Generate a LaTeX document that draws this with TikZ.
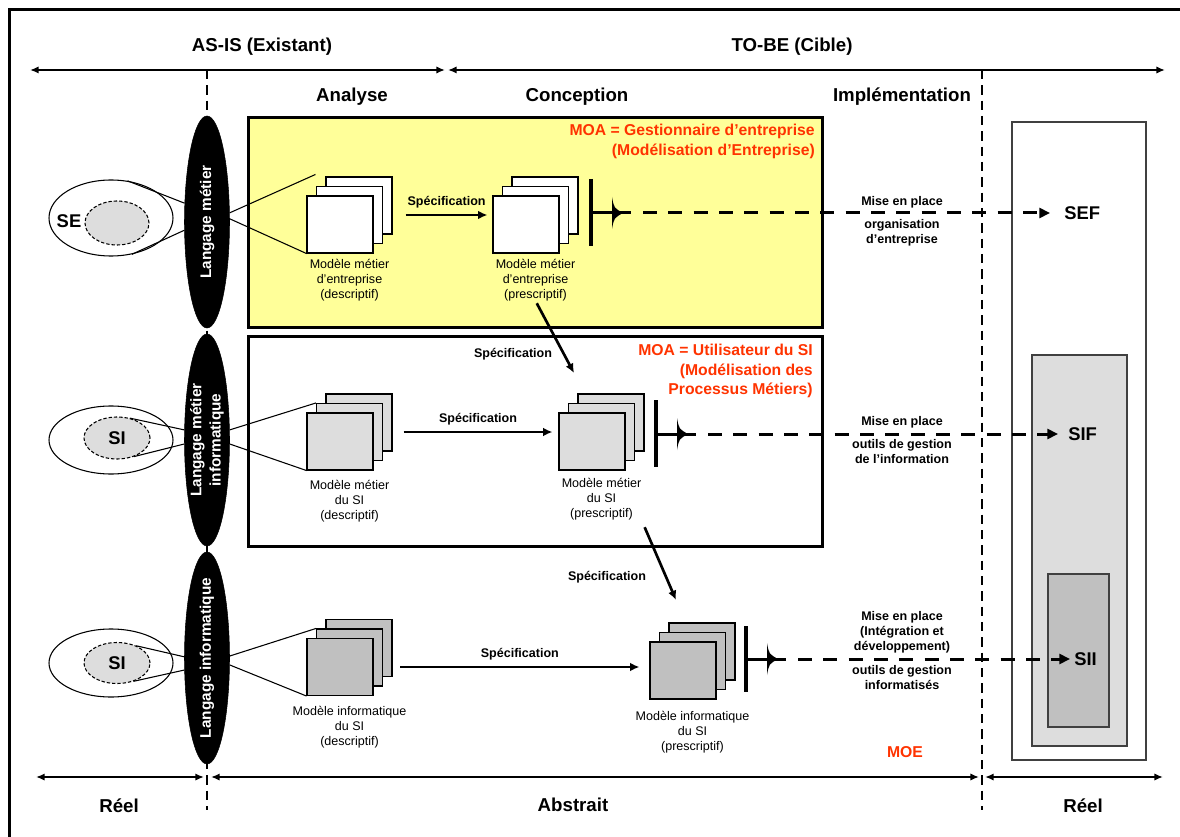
\documentclass[tikz,border=0pt]{standalone}
\usepackage{fontspec}
\setmainfont{Liberation Sans}
\usepackage{xcolor}
\usepackage{tikz}
\usetikzlibrary{calc}
\usetikzlibrary{positioning}
\usetikzlibrary{shapes.geometric}
\usetikzlibrary{arrows.meta}

\definecolor{moarouge}{HTML}{FF3300}
\definecolor{jaunepale}{HTML}{FFFF99}
\definecolor{grisclair}{HTML}{DDDDDD}
\definecolor{grisfonce}{HTML}{C0C0C0}

\tikzset{
	titre/.style={font=\bfseries\fontsize{14}{16}\selectfont},
	modele/.style={font=\fontsize{9.4}{11.25}\selectfont,align=center,inner sep=0pt},
	gras/.style={font=\bfseries\fontsize{9.4}{11.25}\selectfont,align=center,inner sep=0pt},
	moa/.style={font=\bfseries\fontsize{11.8}{14.6}\selectfont,text=moarouge,align=right,inner sep=0pt},
	langage/.style={font=\bfseries\fontsize{11.5}{14.5}\selectfont,text=white,rotate=90,align=center,inner sep=0pt},
	systeme/.style={font=\bfseries\fontsize{13.8}{16}\selectfont,inner sep=0pt},
	feuille/.style={draw,line width=0.8pt,fill=#1,minimum width=49.5pt,minimum height=42.75pt,inner sep=0pt},
	lentille/.style={ellipse,draw,fill=black,minimum width=33.75pt,minimum height=159pt,inner sep=0pt},
	domaine/.style={ellipse,draw,line width=0.8pt,minimum width=93pt,minimum height=#1,inner sep=0pt},
	noyau/.style={ellipse,draw,fill=grisclair,dash pattern=on 2.5pt off 1.5pt,line width=0.8pt,inner sep=0pt},
	trait/.style={line width=0.8pt},
	spec/.style={-{Latex[length=7pt,width=6.5pt]},line width=2pt},
	axe/.style={{Latex[length=6.5pt,width=5.5pt]}-{Latex[length=6.5pt,width=5.5pt]},line width=1.5pt},
	repere/.style={line width=1.5pt,dash pattern=on 7pt off 4.5pt},
	barre/.style={line width=2.5pt},
	sortie/.style={line width=2.25pt,dash pattern=on 10.5pt off 8.5pt,-{Triangle[length=8pt,width=7.5pt]}},
}

\begin{document}
\begin{tikzpicture}[x=0.75pt,y=-0.75pt]
	\useasboundingbox (0,0) rectangle (1180,837);
	\draw[line width=2.25pt] (1180,10) -- (9,10) -- (9,837);
	% en-tete
	\node[titre] (asis) at (262,47) {AS-IS (Existant)};
	\node[titre] (tobe) at (792,47) {TO-BE (Cible)};
	\coordinate (a1) at (30,70);
	\coordinate (a2) at (445,70);
	\coordinate (a3) at (448,70);
	\coordinate (a4) at (1165,70);
	\draw[axe] (a1) -- (a2);
	\draw[axe] (a3) -- (a4);
	\node[titre] (analyse) at (352,97) {Analyse};
	\node[titre] (conception) at (577,97) {Conception};
	\node[titre] (implementation) at (902,97) {Implémentation};
	\draw[repere] (207,70) -- (207,810);
	\draw[repere] (982,70) -- (982,810);
	% cadres MOA
	\draw[line width=2.25pt,fill=jaunepale] (248,118) rectangle (822,328);
	\draw[line width=2.25pt] (248,337) rectangle (822,546);
	\node[moa,anchor=north east] (moa1) at (815,124) {MOA = Gestionnaire d’entreprise\\(Modélisation d’Entreprise)};
	\node[moa,anchor=north east] (moa2) at (813,344) {MOA = Utilisateur du SI\\(Modélisation des\\Processus Métiers)};
	\node[moa] (moe) at (905,752) {MOE};
	% systemes reels
	\draw[trait,draw=black!75,fill=white] (1012,122) rectangle (1146,760);
	\draw[trait,draw=black!75,fill=grisclair] (1032,355) rectangle (1127,746);
	\draw[trait,draw=black!75,fill=grisfonce] (1048,574) rectangle (1109,727);
	\node[systeme,anchor=west] (sef) at (1064,213) {SEF};
	\node[systeme,anchor=west] (sif) at (1068,434) {SIF};
	\node[systeme,anchor=west] (sii) at (1074,659) {SII};
	% langages
	\node[lentille] (l1) at (207,222) {};
	\node[lentille] (l2) at (207,440) {};
	\node[lentille] (l3) at (207,658) {};
	\node[langage] (t1) at (l1) {Langage métier};
	\node[langage] (t2) at (l2) {Langage métier\\informatique};
	\node[langage] (t3) at (l3) {Langage informatique};
	% existant
	\node[domaine=57pt] (o1) at (111,218) {};
	\node[domaine=51pt] (o2) at (111,440) {};
	\node[domaine=51pt] (o3) at (111,663) {};
	\node[noyau,minimum width=48pt,minimum height=33pt] (n1) at (117,223) {};
	\node[noyau,minimum width=49.5pt,minimum height=31.5pt] (n2) at (117,438) {};
	\node[noyau,minimum width=49.5pt,minimum height=30.75pt] (n3) at (117,663) {};
	\node[systeme] (se) at (69,221) {SE};
	\node[systeme] (si1) at (n2) {SI};
	\node[systeme] (si2) at (n3) {SI};
	% modeles
	\node[feuille=white] (desc1b) at (359,205.5) {};
	\node[feuille=white] (desc1m) at (349.5,215) {};
	\node[feuille=white] (desc1) at (340,224.5) {};
	\node[feuille=white] (presc1b) at (545,205.5) {};
	\node[feuille=white] (presc1m) at (535.5,215) {};
	\node[feuille=white] (presc1) at (526,224.5) {};
	\node[feuille=grisclair] (desc2b) at (359,422.5) {};
	\node[feuille=grisclair] (desc2m) at (349.5,432) {};
	\node[feuille=grisclair] (desc2) at (340,441.5) {};
	\node[feuille=grisclair] (presc2b) at (611,422.5) {};
	\node[feuille=grisclair] (presc2m) at (601.5,432) {};
	\node[feuille=grisclair] (presc2) at (592,441.5) {};
	\node[feuille=grisfonce] (desc3b) at (359,648) {};
	\node[feuille=grisfonce] (desc3m) at (349.5,657.5) {};
	\node[feuille=grisfonce] (desc3) at (340,667) {};
	\node[feuille=grisfonce] (presc3b) at (702,651.5) {};
	\node[feuille=grisfonce] (presc3m) at (692.5,661) {};
	\node[feuille=grisfonce] (presc3) at (683,670.5) {};
	\node[modele,anchor=north] (ldesc1) at ($(desc1.south)+(9.5,5)$) {Modèle métier\\d’entreprise\\(descriptif)};
	\node[modele,anchor=north] (lpresc1) at ($(presc1.south)+(9.5,5)$) {Modèle métier\\d’entreprise\\(prescriptif)};
	\node[modele,anchor=north] (ldesc2) at ($(desc2.south)+(9.5,9)$) {Modèle métier\\du SI\\(descriptif)};
	\node[modele,anchor=north] (lpresc2) at ($(presc2.south)+(9.5,7)$) {Modèle métier\\du SI\\(prescriptif)};
	\node[modele,anchor=north] (ldesc3) at ($(desc3.south)+(9.5,10)$) {Modèle informatique\\du SI\\(descriptif)};
	\node[modele,anchor=north] (lpresc3) at ($(presc3.south)+(9.5,11)$) {Modèle informatique\\du SI\\(prescriptif)};
	% projections
	\draw[trait] (o1.66) -- (l1.140);
	\draw[trait] (o1.-60) -- (l1.200);
	\draw[trait] (l1.22) -- ([shift={(-10,-2)}]desc1b.north west);
	\draw[trait] (l1.8) -- (desc1.south west);
	\draw[trait] (n2.57) -- (l2.156);
	\draw[trait] (n2.-48) -- (l2.190);
	\draw[trait] (l2.24) -- (desc2m.north west);
	\draw[trait] (l2.-10) -- (desc2.south west);
	\draw[trait] (n3.42) -- (l3.177);
	\draw[trait] (n3.-48) -- (l3.208);
	\draw[trait] (l3.5) -- (desc3m.north west);
	\draw[trait] (l3.-17) -- (desc3.south west);
	% specifications
	\draw[spec] ([xshift=17pt]desc1m.east) -- node[gras,above=4pt] (sp1) {Spécification} ([xshift=-10.9pt]presc1m.west);
	\draw[spec] ([xshift=15.4pt]desc2m.east) -- node[gras,above=4pt] (sp2) {Spécification} ([xshift=-11.6pt]presc2m.west);
	\draw[spec] ([xshift=20pt]desc3.east) -- node[gras,above=4pt] (sp3) {Spécification} ([xshift=-7.5pt]desc3.east -| presc3.west);
	\coordinate (c1) at (574,373);
	\draw[spec,shorten <=2pt] (lpresc1.south) -- (c1);
	\node[gras] (sp4) at (513,354) {Spécification};
	\coordinate (c2) at (676,600);
	\draw[spec,shorten <=6pt] (lpresc2.south east) -- (c2);
	\node[gras] (sp5) at (607,577) {Spécification};
	% mise en place
	\coordinate (b1) at (591,213);
	\coordinate (b2) at (656,434);
	\coordinate (b3) at (746,659);
	\draw[barre] (591,179) -- (591,246);
	\draw[barre] (656,400) -- (656,467);
	\draw[barre] (746,626) -- (746,692);
	\draw[line width=2.25pt] (b1) -- ++(40,0);
	\draw[line width=2.25pt] (b2) -- ++(40,0);
	\draw[line width=2.25pt] (b3) -- ++(40,0);
	\fill[shift={(b1)}] (21,-16) .. controls (23,-5) .. (32,0) .. controls (23,5) .. (21,16) -- cycle;
	\fill[shift={(b2)}] (21,-16) .. controls (23,-5) .. (32,0) .. controls (23,5) .. (21,16) -- cycle;
	\fill[shift={(b3)}] (21,-16) .. controls (23,-5) .. (32,0) .. controls (23,5) .. (21,16) -- cycle;
	\coordinate (s1) at (643,213);
	\coordinate (s2) at (708,434);
	\coordinate (s3) at (798,659);
	\draw[sortie,shorten >=10.5pt] (s1) -- (sef);
	\draw[sortie,shorten >=7.5pt] (s2) -- (sif);
	\draw[sortie,shorten >=3pt] (s3) -- (sii);
	\node[gras] (m1) at (902,202) {Mise en place};
	\node[gras] (m1b) at (902,233) {organisation\\d’entreprise};
	\node[gras] (m2) at (902,422) {Mise en place};
	\node[gras] (m2b) at (902,452) {outils de gestion\\de l’information};
	\node[gras] (m3) at (902,632) {Mise en place\\(Intégration et\\développement)};
	\node[gras] (m3b) at (902,678) {outils de gestion\\informatisés};
	% pied
	\coordinate (f1) at (36,777);
	\coordinate (f2) at (204,777);
	\coordinate (f3) at (211,777);
	\coordinate (f4) at (979,777);
	\coordinate (f5) at (985,777);
	\coordinate (f6) at (1163,777);
	\draw[axe] (f1) -- (f2);
	\draw[axe] (f3) -- (f4);
	\draw[axe] (f5) -- (f6);
	\node[titre] (reel1) at (119,806) {Réel};
	\node[titre] (abstrait) at (573,805) {Abstrait};
	\node[titre] (reel2) at (1083,806) {Réel};
\end{tikzpicture}
\end{document}
